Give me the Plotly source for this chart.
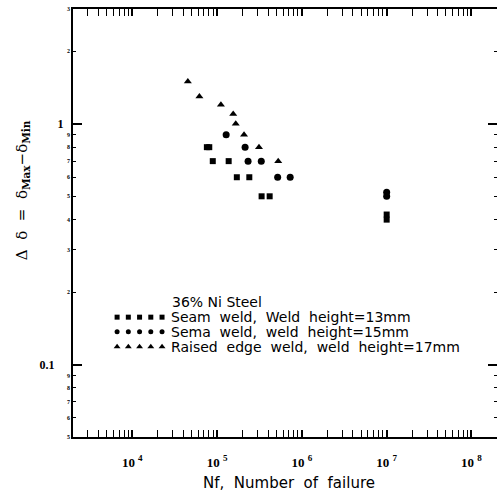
import numpy as np
import plotly.graph_objects as go

# ---- data ----
seam_x = [75800, 80900, 89000, 137000, 171000, 240000, 335000, 417000, 1.0e7, 1.0e7]
seam_y = [0.8, 0.8, 0.7, 0.7, 0.6, 0.6, 0.5, 0.5, 0.42, 0.40]
sema_x = [128000, 214000, 232000, 332000, 518000, 728000, 1.0e7, 1.0e7]
sema_y = [0.9, 0.8, 0.7, 0.7, 0.6, 0.6, 0.52, 0.50]
raised_x = [45200, 61900, 111000, 155000, 166000, 208000, 312000, 526000]
raised_y = [1.5, 1.3, 1.2, 1.1, 1.0, 0.9, 0.8, 0.7]

legend_title = "36% Ni Steel"
legend_labels = ["Seam  weld,  Weld  height=13mm",
                 "Sema  weld,  weld  height=15mm",
                 "Raised  edge  weld,  weld  height=17mm"]
legend_symbols = ["square", "circle", "triangle-up"]

x_major = [1e4, 1e5, 1e6, 1e7, 1e8]
x_major_text = ["10 <sup>4</sup>", "10 <sup>5</sup>", "10 <sup>6</sup>", "10 <sup>7</sup>", "10 <sup>8</sup>"]
y_major = [0.1, 1]
y_major_text = ["0.1&nbsp;&nbsp;&nbsp;&nbsp;", "1&nbsp;"]
y_minor = [0.05, 0.06, 0.07, 0.08, 0.09, 0.2, 0.3, 0.4, 0.5, 0.6, 0.7, 0.8, 0.9, 2, 3]
y_minor_text = ["5", "6", "7", "8", "9", "2", "3", "4", "5", "6", "7", "8", "9", "2", "3"]

x_minor = [m * 10 ** e for e in range(3, 9) for m in range(2, 10) if 2e3 <= m * 10 ** e <= 2e8]

XR = [np.log10(2e3), np.log10(2e8)]
YR = [np.log10(0.05), np.log10(3)]

fig = go.Figure()
for xs, ys, sym, sz in [(seam_x, seam_y, "square", 6), (sema_x, sema_y, "circle", 7),
                        (raised_x, raised_y, "triangle-up", 7)]:
    fig.add_trace(go.Scatter(x=xs, y=ys, mode="markers",
                             marker=dict(symbol=sym, size=sz, color="black"),
                             showlegend=False, hoverinfo="skip"))

# legend markers on an overlay linear axis (paper-like)
row_y = [0.280, 0.246, 0.211]
mx = [0.104 + i * 0.0265 for i in range(5)]
for sym, ry in zip(legend_symbols, row_y):
    fig.add_trace(go.Scatter(x=mx, y=[ry] * 5, mode="markers", xaxis="x2", yaxis="y3",
                             marker=dict(symbol=sym, size=5 if sym != "triangle-up" else 6, color="black"),
                             showlegend=False, hoverinfo="skip"))
# invisible trace for minor-label axis
fig.add_trace(go.Scatter(x=[1e5], y=[1], yaxis="y2", mode="markers",
                         marker=dict(opacity=0), showlegend=False, hoverinfo="skip"))

fig.update_layout(
    width=497, height=497,
    margin=dict(l=73, r=0, t=9, b=60, autoexpand=False),
    paper_bgcolor="white", plot_bgcolor="white",
    xaxis=dict(type="log", range=XR, tickvals=x_major, ticktext=x_major_text,
               ticks="inside", ticklen=7, tickwidth=1.5, tickcolor="black",
               minor=dict(tickvals=x_minor, ticks="inside", ticklen=4, tickwidth=1.2, tickcolor="black"),
               showline=True, linecolor="black", linewidth=2, mirror="allticks",
               showgrid=False, zeroline=False, ticklabelstandoff=12, automargin=False,
               tickfont=dict(family="Liberation Serif", size=13, color="black", weight="bold")),
    yaxis=dict(type="log", range=YR, tickvals=y_major, ticktext=y_major_text,
               ticks="inside", ticklen=9, tickwidth=1.5, tickcolor="black",
               minor=dict(tickvals=y_minor, ticks="inside", ticklen=3, tickwidth=1.2, tickcolor="black"),
               showline=True, linecolor="black", linewidth=2, mirror="allticks",
               showgrid=False, zeroline=False, ticklabelstandoff=2, automargin=False,
               tickfont=dict(family="Liberation Serif", size=12, color="black", weight="bold")),
    yaxis2=dict(type="log", range=YR, overlaying="y", anchor="x", side="left",
                tickvals=y_minor, ticktext=y_minor_text, ticks="", showline=False,
                showgrid=False, zeroline=False, ticklabelstandoff=2, automargin=False,
                tickfont=dict(family="Liberation Serif", size=6, color="black", weight="bold")),
    xaxis2=dict(range=[0, 1], overlaying="x", anchor="y3", visible=False, automargin=False),
    yaxis3=dict(range=[0, 1], overlaying="y", anchor="x2", visible=False, automargin=False),
)

fig.add_annotation(text=legend_title, xref="paper", yref="paper", x=0.229, y=0.315,
                   xanchor="left", yanchor="middle", showarrow=False,
                   font=dict(family="DejaVu Sans", size=14, color="black"))
for lab, ry in zip(legend_labels, row_y):
    fig.add_annotation(text=lab, xref="paper", yref="paper", x=0.227, y=ry,
                       xanchor="left", yanchor="middle", showarrow=False,
                       font=dict(family="DejaVu Sans", size=14, color="black"))

fig.add_annotation(text="Nf,  Number  of  failure", xref="paper", yref="paper", x=0.51, y=-0.108,
                   xanchor="center", yanchor="middle", showarrow=False,
                   font=dict(family="DejaVu Sans", size=15, color="black"))
fig.add_annotation(text="Δ  δ  =  δ<sub><b>Max</b></sub>−δ<sub><b>Min</b></sub>", xref="paper", yref="paper",
                   x=-0.12, y=0.577, textangle=-90, xanchor="center", yanchor="middle", showarrow=False,
                   font=dict(family="DejaVu Serif", size=15, color="black"))

fig.write_html("out.html", config={"displayModeBar": False},
               post_script="document.body.style.margin='0';document.body.style.padding='0';")
